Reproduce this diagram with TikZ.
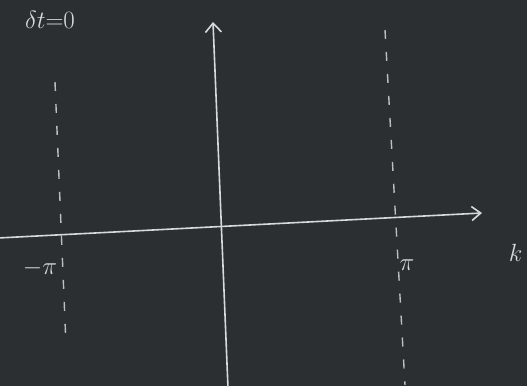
\documentclass[tikz,border=0pt]{standalone}
\usepackage{tikz}
\usetikzlibrary{arrows.meta}

\definecolor{board}{RGB}{44,47,50}
\definecolor{chalk}{RGB}{215,218,220}

\tikzset{
  chalkline/.style={draw=chalk, line width=1.6pt, line cap=round},
  chalkdash/.style={draw=chalk!85!board, line width=1.4pt, dash pattern=on 9pt off 13pt},
  chalktext/.style={text=chalk, font=\fontsize{25}{25}\selectfont},
}

\begin{document}
\begin{tikzpicture}[x=1pt, y=-1pt]

% Tafel
\fill[board] (0,0) rectangle (527,386);
\useasboundingbox (0,0) rectangle (527,386);
\clip (0,0) rectangle (527,386);

% Ecken der Achsen
\coordinate (xl) at (-2,238);
\coordinate (xr) at (482,213);
\coordinate (yb) at (228,388);
\coordinate (yt) at (213,22);

% Achsen
\draw[chalkline, -{Straight Barb[length=9pt, width=14pt]}] (xl) -- (xr);
\draw[chalkline, -{Straight Barb[length=9pt, width=16pt]}] (yb) -- (yt);

% Grenzen der Zone
\coordinate (lt) at (55,82);
\coordinate (lb) at (66,345);
\coordinate (rt) at (385,30);
\coordinate (rb) at (405,385);
\draw[chalkdash] (lt) -- (lb);
\draw[chalkdash] (rt) -- (rb);

% Beschriftung
\node[chalktext] (cond) at (50,20) {$\delta t{=}0$};
\node[chalktext] (mpi) at (40,268) {$-\pi$};
\node[chalktext] (ppi) at (407,265) {$\pi$};
\node[chalktext, anchor=east] (kax) at (526,253) {$k$};

\end{tikzpicture}
\end{document}
